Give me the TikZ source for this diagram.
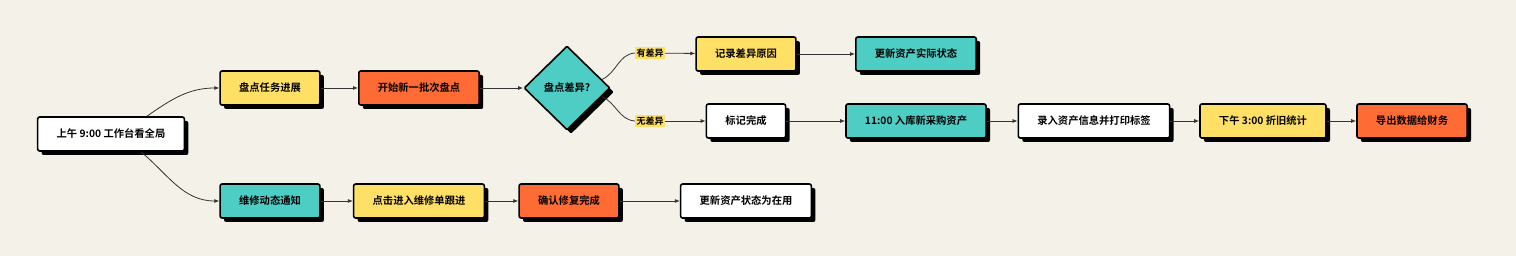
\documentclass[tikz,border=0pt]{standalone}
\usepackage{fontspec}
\setmainfont{Noto Sans CJK SC}[BoldFont={Noto Sans CJK SC Bold}]
\usetikzlibrary{shapes.geometric,shadows,arrows.meta,calc}
\definecolor{bgcream}{HTML}{F4F1E8}
\definecolor{cyel}{HTML}{FFE066}
\definecolor{corg}{HTML}{FF6B35}
\definecolor{cteal}{HTML}{4ECDC4}
\definecolor{cline}{HTML}{333333}
\begin{document}
\begin{tikzpicture}[x=1pt,y=1pt,
    box/.style={draw=black,line width=1.6pt,rounded corners=2pt,minimum height=34pt,inner xsep=19pt,
        font=\fontsize{10.3}{12}\selectfont\bfseries,
        drop shadow={shadow xshift=4pt,shadow yshift=-4pt,opacity=1,fill=black}},
    arr/.style={draw=cline,line width=0.8pt,-{Latex[length=5pt,width=4pt]}},
    lbl/.style={fill=cyel,inner sep=1.5pt,font=\fontsize{9}{10}\selectfont\bfseries}]
    \useasboundingbox[fill=bgcream] (0,0) rectangle (1516,256);
    % main boxes
    \foreach \n/\x/\y/\c/\t in {A/111/122/white/上午 9:00 工作台看全局,
        B/270/168/cyel/盘点任务进展,C/419/168/corg/开始新一批次盘点,
        E/746/202/cyel/记录差异原因,F/916/202/cteal/更新资产实际状态,
        G/746/135/white/标记完成,H/916/135/cteal/11:00 入库新采购资产,
        I/1094/135/white/录入资产信息并打印标签,J/1263/135/cyel/下午 3:00 折旧统计,
        K/1412/135/corg/导出数据给财务,
        L/270/55/cteal/维修动态通知,M/419/55/cyel/点击进入维修单跟进,
        N/569/55/corg/确认修复完成,O/746/55/white/更新资产状态为在用}{
        \node[box,fill=\c] (\n) at (\x,\y) {\t};
    }
    \node[box,diamond,aspect=1,fill=cteal,minimum width=86pt,minimum height=84pt,inner sep=0pt,rounded corners=1pt] (D) at (567,168) {盘点差异?};
    % straight links
    \foreach \a/\b in {B/C,C/D,E/F,G/H,H/I,I/J,J/K,L/M,M/N,N/O}{\draw[arr] (\a) -- (\b);}
    % curved links
    \draw[arr] ([xshift=36pt]A.north) to[out=35,in=180] (B.west);
    \draw[arr] ([xshift=30pt]A.south) to[out=-40,in=180] (L.west);
    \node[lbl] (yes) at (650,203) {有差异};
    \node[lbl] (no) at (650,135) {无差异};
    \draw[cline,line width=0.8pt] ($(D.north east)!0.6!(D.east)$) to[out=25,in=185] (yes.west);
    \draw[cline,line width=0.8pt] ($(D.south east)!0.6!(D.east)$) to[out=-25,in=175] (no.west);
    \draw[arr] (yes) -- (E);
    \draw[arr] (no) -- (G);
\end{tikzpicture}
\end{document}
